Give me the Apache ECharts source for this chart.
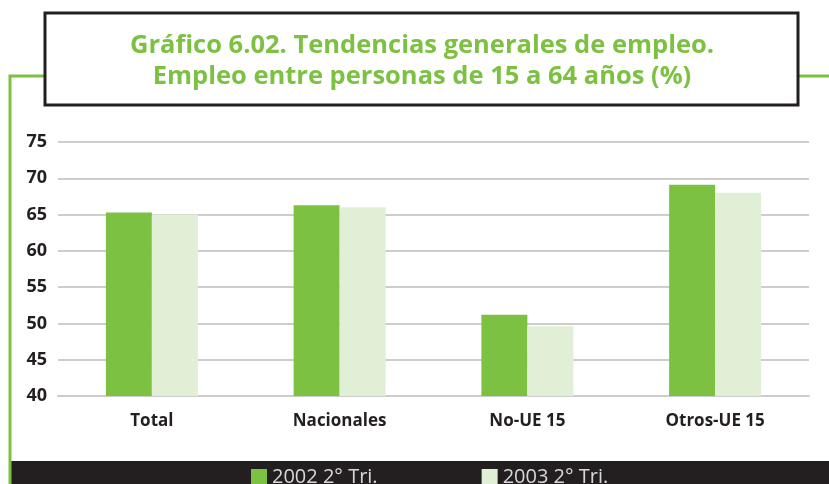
<!DOCTYPE html>
<html>
<head>
<meta charset="utf-8">
<script src="https://cdn.jsdelivr.net/npm/echarts@6/dist/echarts.min.js"></script>
<style>
  html, body { margin: 0; padding: 0; background: #fff; }
  #chart { width: 829px; height: 484px; }
</style>
</head>
<body>
<div id="chart"></div>
<script>
const categories = ["Total", "Nacionales", "No-UE 15", "Otros-UE 15"];
const serie2002 = [65.3, 66.3, 51.2, 69.1];
const serie2003 = [65.0, 66.0, 49.6, 68.0];
const seriesNames = ["2002 2\u00b0 Tri.", "2003 2\u00b0 Tri."];

const green = "#7dc142";
const lightGreen = "#e1efd6";
const font = "Open Sans";

const chart = echarts.init(document.getElementById("chart"));

chart.setOption({
  animation: false,
  textStyle: { fontFamily: font },
  graphic: [
    // green frame lines
    { type: "polyline", shape: { points: [[45, 76], [10, 76], [10, 484]] },
      style: { stroke: green, lineWidth: 3, fill: null } },
    { type: "line", shape: { x1: 798, y1: 76, x2: 829, y2: 76 },
      style: { stroke: green, lineWidth: 3 } },
    // title box
    { type: "rect", shape: { x: 45, y: 13, width: 753, height: 92 },
      style: { fill: "#fff", stroke: "#231f20", lineWidth: 3 } },
    { type: "text", x: 422, y: 30,
      style: { text: "Gráfico 6.02. Tendencias generales de empleo.\nEmpleo entre personas de 15 a 64 años (%)",
        fill: green, font: "bold 25.5px " + font, align: "center", lineHeight: 31 } },
    // legend band
    { type: "rect", shape: { x: 10, y: 461, width: 819, height: 23 },
      style: { fill: "#231f20" }, z: -1 }
  ],
  legend: {
    data: seriesNames,
    bottom: -8,
    left: 246,
    itemGap: 104,
    itemWidth: 16,
    itemHeight: 16,
    icon: "rect",
    textStyle: { color: "#d8d8d8", fontSize: 20, fontFamily: font }
  },
  grid: { left: 58, right: 20, top: 142, bottom: 88, containLabel: false },
  xAxis: {
    type: "category",
    data: categories,
    axisLine: { show: true, lineStyle: { color: "#cccccc", width: 2 } },
    axisTick: { show: false },
    axisLabel: { color: "#231f20", fontWeight: "bold", fontSize: 17, margin: 17 }
  },
  yAxis: {
    type: "value",
    min: 40,
    max: 75,
    interval: 5,
    axisLine: { show: false },
    axisTick: { show: false },
    axisLabel: { color: "#231f20", fontWeight: "bold", fontSize: 18, margin: 11 },
    splitLine: { lineStyle: { color: "#bdbdbd", width: 1.5 } }
  },
  series: [
    { name: seriesNames[0], type: "bar", data: serie2002, barWidth: 46, barGap: "0%",
      itemStyle: { color: green } },
    { name: seriesNames[1], type: "bar", data: serie2003, barWidth: 46,
      itemStyle: { color: lightGreen } }
  ]
});
</script>
</body>
</html>
